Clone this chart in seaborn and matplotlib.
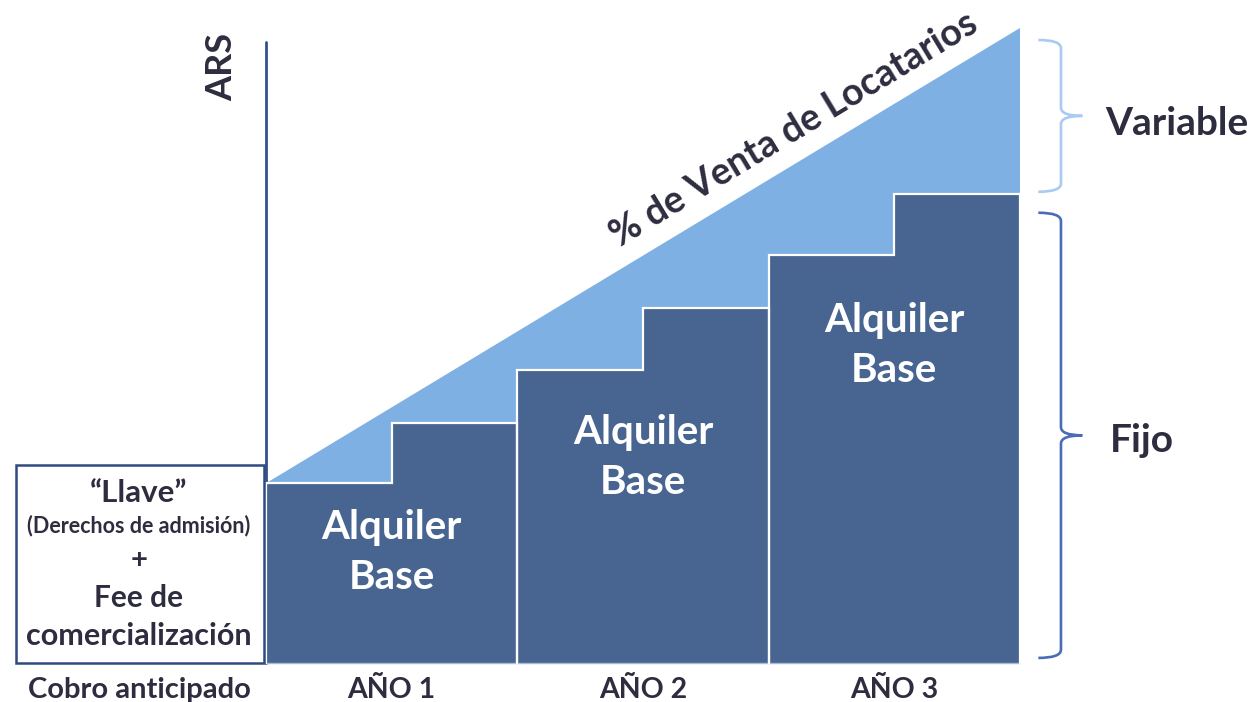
import numpy as np
import pandas as pd
import matplotlib.pyplot as plt
import seaborn as sns
from matplotlib.path import Path
from matplotlib.patches import PathPatch, Polygon, Rectangle

# data (arbitrary ARS units, top of variable band = 100)
years = ['AÑO 1', 'AÑO 2', 'AÑO 3']
advance_label = 'Cobro anticipado'
base_first_half = [28.3, 46.1, 64.3]
base_second_half = [37.8, 55.9, 73.9]
variable_top = 100.0
base_label = ['Alquiler', 'Base']
variable_label = '% de Venta de Locatarios'
box_lines = ['\u201cLlave\u201d', '(Derechos de admisión)', '+', 'Fee de', 'comercialización']

DARK = '#486591'
LIGHT = '#7eb0e4'
TEXT = '#2e2d40'
AXIS = '#34508c'

sns.set_theme(style='white')
plt.rcParams['font.family'] = ['Lato', 'DejaVu Sans']

fig = plt.figure(figsize=(12.53, 7.02), dpi=100)
ax = fig.add_axes([0, 0, 1, 1])
ax.set_xlim(-1.058, 3.927)
ax.set_ylim(-6.14, 104.4)

# variable (light) band under the diagonal
ax.add_patch(Polygon([(0, base_first_half[0]), (len(years), variable_top),
                      (len(years), 0), (0, 0)], closed=True,
                     facecolor=LIGHT, edgecolor='none', zorder=0.5))

# base rent half-year bars
half = pd.DataFrame({
    'x': [i + d for i in range(len(years)) for d in (0.25, 0.75)],
    'y': [v for pair in zip(base_first_half, base_second_half) for v in pair],
})
sns.barplot(data=half, x='x', y='y', native_scale=True, width=1.0,
            color=DARK, saturation=1, linewidth=0, ax=ax, zorder=1)

# white outline of each year block
label_mid = [17.35, 32.35, 50.05]
for i in range(len(years)):
    h1, h2 = base_first_half[i], base_second_half[i]
    ax.plot([i, i, i + 0.5, i + 0.5, i + 1, i + 1],
            [0, h1, h1, h2, h2, 0], color='white', lw=1.6, zorder=2,
            solid_joinstyle='miter')
    for k, word in enumerate(base_label):
        ax.text(i + 0.5, label_mid[i] + (3.94 if k == 0 else -3.94), word,
                color='white', fontsize=29, fontweight='bold',
                ha='center', va='center', zorder=3)
    ax.text(i + 0.5, -4.25, years[i], color=TEXT, fontsize=20.5,
            fontweight='bold', ha='center', va='center')
ax.plot([0, len(years)], [0, 0], color='#a9bad6', lw=1, zorder=1.5)

# vertical axis + label
ax.plot([0, 0], [0, 97.8], color=AXIS, lw=2, zorder=0.4)
ax.text(-0.175, 93.9, 'ARS', rotation=90, color=TEXT, fontsize=26,
        fontweight='bold', ha='center', va='center')

# advance payment box
ax.add_patch(Rectangle((-0.996, 0), 0.988, 31.2, facecolor='white',
                       edgecolor='#2f4a80', lw=1.8, zorder=2))
box_y = [26.8, 21.6, 16.2, 10.2, 4.25]
box_fs = [22.5, 15.5, 21, 21.5, 22]
for s, yy, fs in zip(box_lines, box_y, box_fs):
    ax.text(-0.505, yy, s, color=TEXT, fontsize=fs, fontweight='bold',
            ha='center', va='center', zorder=3)
ax.text(-0.505, -4.25, advance_label, color=TEXT, fontsize=21,
        fontweight='bold', ha='center', va='center')

# diagonal label
p0 = ax.transData.transform((0, base_first_half[0]))
p1 = ax.transData.transform((len(years), variable_top))
ang = np.degrees(np.arctan2(p1[1] - p0[1], p1[0] - p0[0]))
ax.text(2.1, 84.0, variable_label, rotation=ang, rotation_mode='anchor',
        color=TEXT, fontsize=27, fontweight='bold', ha='center', va='center')


def brace(x, y0, y1, color):
    arm, tip, r = 0.09, 0.085, 1.3
    ym = (y0 + y1) / 2
    verts = [(x - arm, y1), (x, y1), (x, y1 - r), (x, ym + r), (x, ym), (x + tip, ym),
             (x, ym), (x, ym - r), (x, y0 + r), (x, y0), (x - arm, y0)]
    codes = [Path.MOVETO, Path.CURVE3, Path.CURVE3, Path.LINETO, Path.CURVE3, Path.CURVE3,
             Path.CURVE3, Path.CURVE3, Path.LINETO, Path.CURVE3, Path.CURVE3]
    ax.add_patch(PathPatch(Path(verts, codes), facecolor='none', edgecolor=color,
                           lw=1.9, capstyle='butt'))


brace(3.163, base_second_half[-1] + 0.3, variable_top - 1.9, '#a9caf3')
brace(3.163, 0.8, base_second_half[-1] - 3.0, '#4a6bb6')
ax.text(3.339, 84.9, 'Variable', color=TEXT, fontsize=28, fontweight='bold',
        ha='left', va='center')
ax.text(3.358, 35.1, 'Fijo', color=TEXT, fontsize=28, fontweight='bold',
        ha='left', va='center')

ax.axis('off')
fig.savefig('out.png', dpi=100, facecolor='white')
